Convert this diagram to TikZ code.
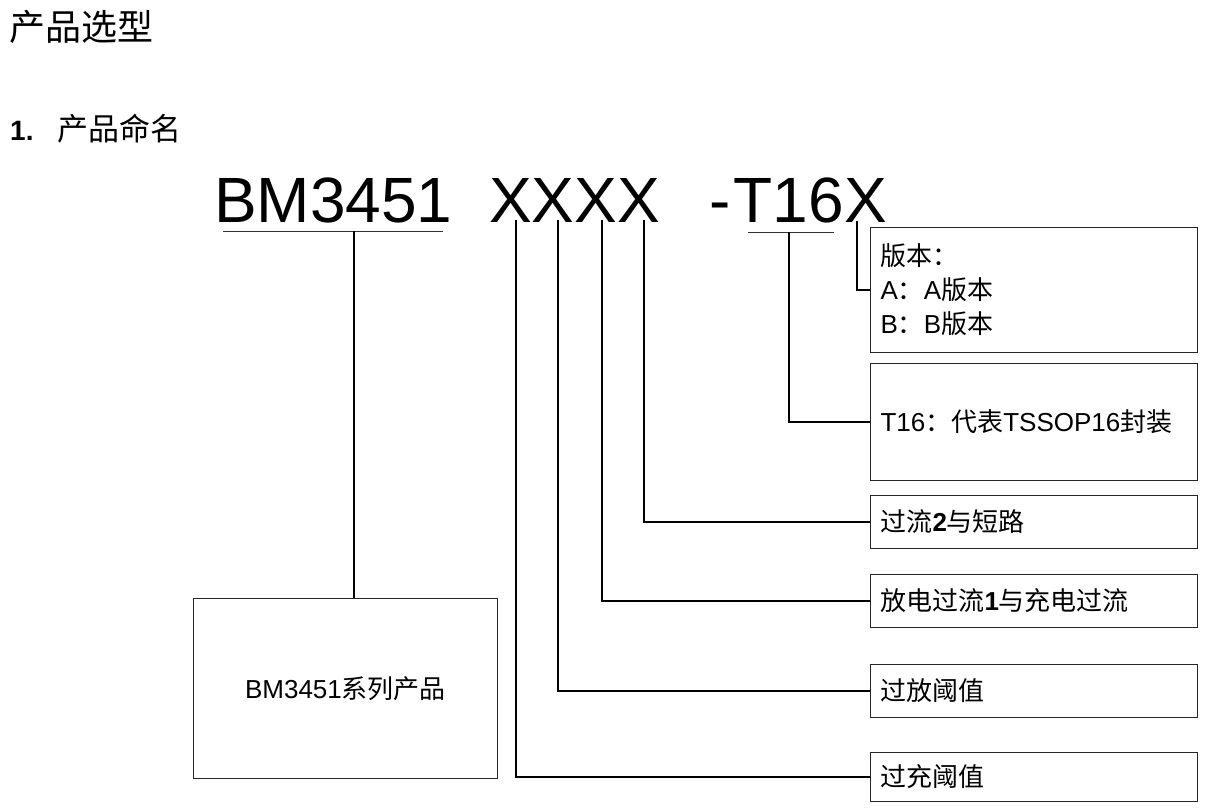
\documentclass[tikz,border=0pt]{standalone}
\usepackage{fontspec}
\setmainfont{Liberation Sans}
\newfontfamily\cjk{Noto Sans CJK SC}
\begin{document}
\begin{tikzpicture}[x=1pt,y=-1pt,
  box/.style={draw=black!85, line width=1pt, inner xsep=10pt, inner ysep=0pt,
    text width=307pt, align=left, anchor=north west, font=\fontsize{26}{34}\selectfont},
  conn/.style={line width=1.4pt, black},
  uline/.style={line width=0.8pt, black!80},
  big/.style={inner sep=0pt, font=\fontsize{64}{64}\selectfont}]
\useasboundingbox (0,0) rectangle (1218,811);
% headings
\node[inner sep=0pt, anchor=west, font=\fontsize{36}{36}\selectfont\cjk] (title) at (9,27) {产品选型};
\node[inner sep=0pt, anchor=base west, font=\fontsize{28}{28}\selectfont\bfseries] (num) at (10,140) {1.};
\node[inner sep=0pt, anchor=west, font=\fontsize{31}{31}\selectfont\cjk] (sub) at (57,129) {产品命名};
% part number
\node[big, anchor=base west] (pn1) at (214,222) {BM3451};
\node[big, anchor=base west] (pn2) at (489,222) {XXXX};
\node[big, anchor=base east] (pn3) at (887,222) {-\kern3pt T16X};
% boxes
\node[box, minimum height=125pt] (ver) at (870,227) {{\cjk 版本：}\\A{\cjk ：}A{\cjk 版本}\\B{\cjk ：}B{\cjk 版本}};
\node[box, minimum height=117pt] (pkg) at (870,363) {T16{\cjk ：代表}TSSOP16{\cjk 封装}};
\node[box, minimum height=53pt] (oc2) at (870,495) {{\cjk 过流}\textbf{2}{\cjk 与短路}};
\node[box, minimum height=53pt] (oc1) at (870,574) {{\cjk 放电过流}\textbf{1}{\cjk 与充电过流}};
\node[box, minimum height=53pt] (od) at (870,664) {{\cjk 过放阈值}};
\node[box, minimum height=49pt] (ovc) at (870,752) {{\cjk 过充阈值}};
\node[draw=black!85, line width=1pt, minimum width=304pt, minimum height=180pt, anchor=north west,
  font=\fontsize{26}{26}\selectfont] (bm) at (193,598) {BM3451{\cjk 系列产品}};
% connector anchors
\coordinate (bmL) at (223,231); \coordinate (bmR) at (443,231); \coordinate (bmM) at (354,231);
\coordinate (x1) at (516,220); \coordinate (x2) at (558,220);
\coordinate (x3) at (602,220); \coordinate (x4) at (644,220);
\coordinate (tL) at (748,232); \coordinate (tR) at (834,232); \coordinate (tM) at (789,232);
\coordinate (vx) at (857,221);
% connectors
\draw[uline] (bmL) -- (bmR);
\draw[conn] (bmM) -- (bmM |- bm.north);
\draw[conn] (x4) |- (oc2.west);
\draw[conn] (x3) |- (oc1.west);
\draw[conn] (x2) |- (od.west);
\draw[conn] (x1) |- (ovc.west);
\draw[uline] (tL) -- (tR);
\draw[conn] (tM) |- (pkg.west);
\draw[conn] (vx) |- (ver.west);
\end{tikzpicture}
\end{document}
